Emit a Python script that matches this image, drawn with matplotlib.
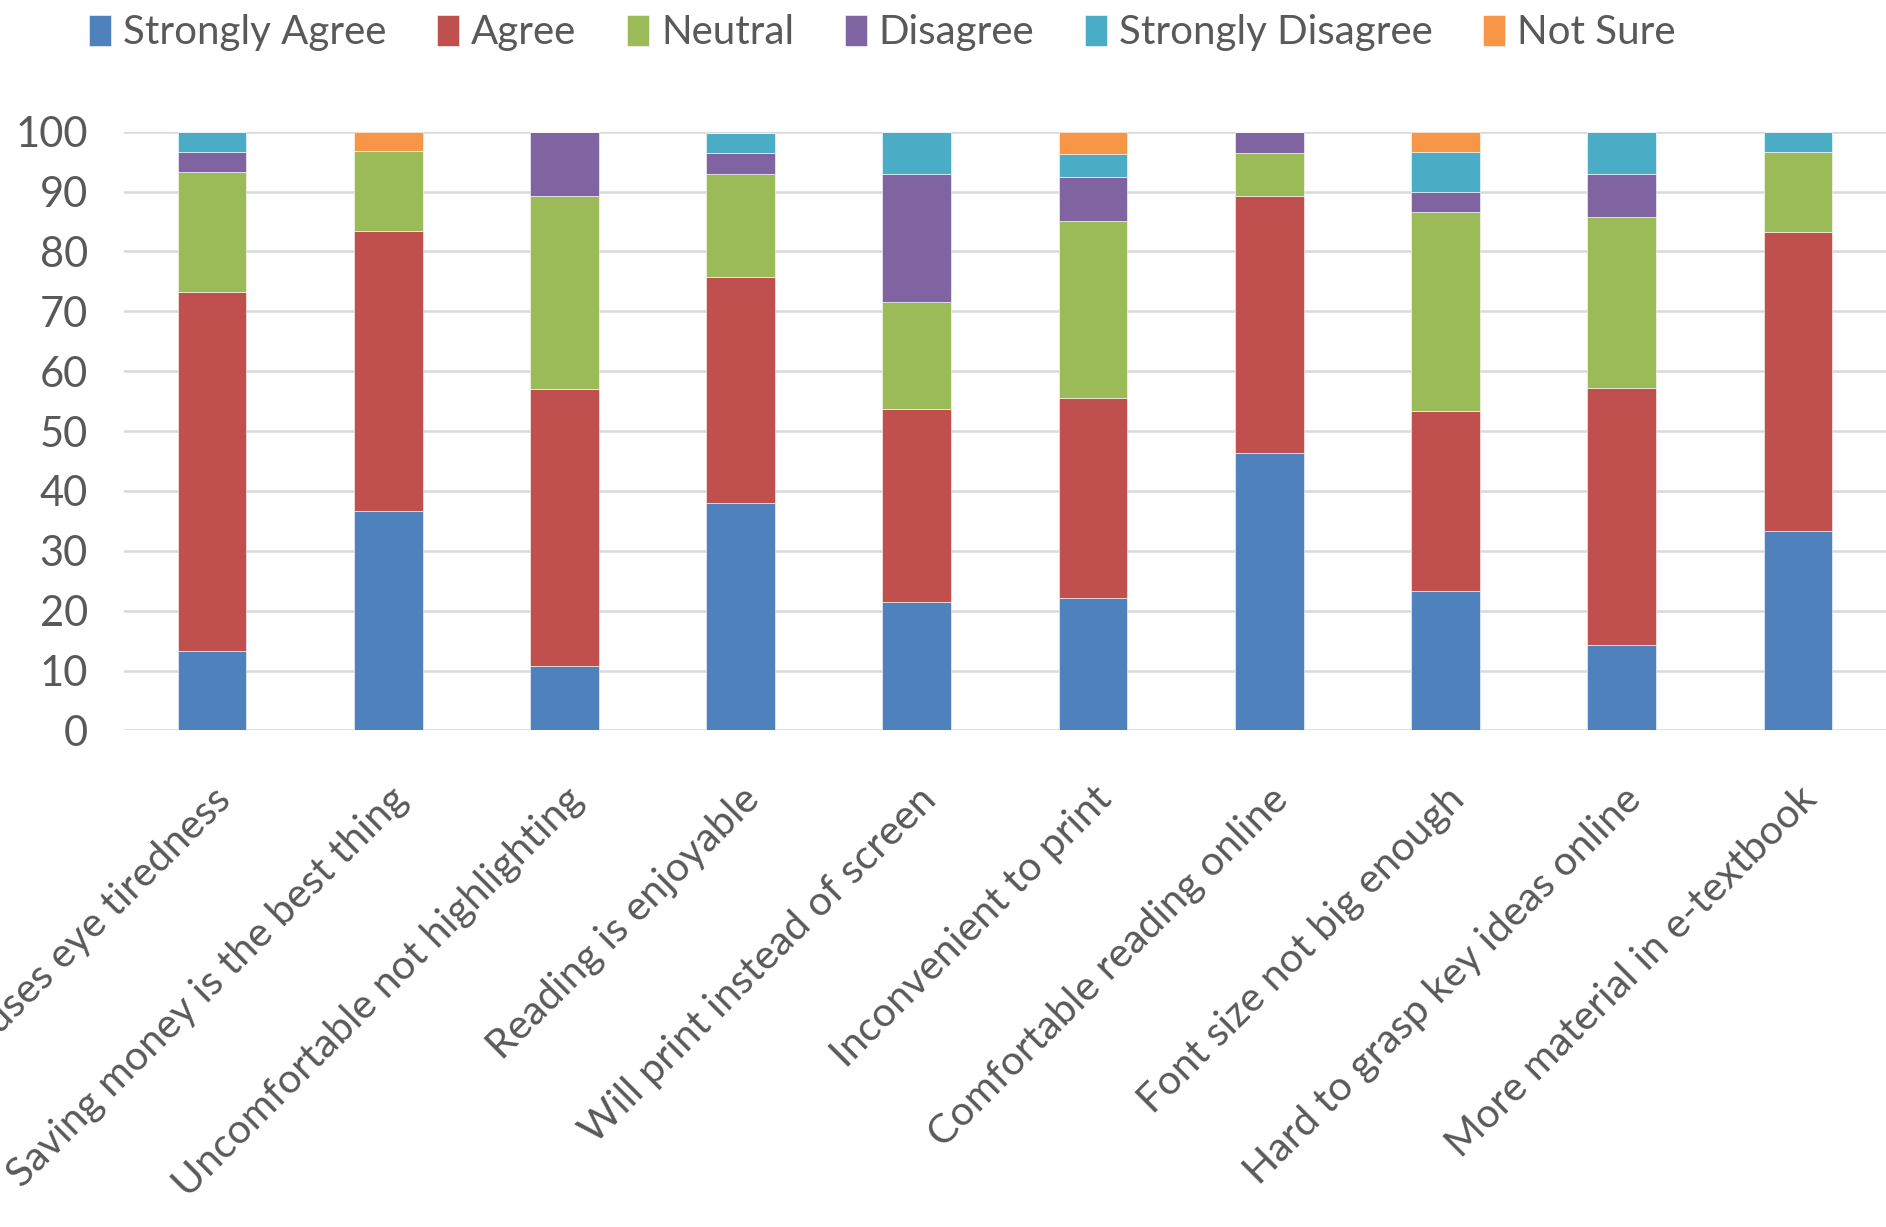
import numpy as np
import matplotlib
matplotlib.use("Agg")
import matplotlib.pyplot as plt

plt.rcParams['font.family'] = ['Lato', 'DejaVu Sans']

statements = ["Causes eye tiredness", "Saving money is the best thing",
              "Uncomfortable not highlighting", "Reading is enjoyable",
              "Will print instead of screen", "Inconvenient to print",
              "Comfortable reading online", "Font size not big enough",
              "Hard to grasp key ideas online", "More material in e-textbook"]

strongly_agree    = [13.3, 36.7, 10.7, 38.0, 21.4, 22.2, 46.4, 23.3, 14.3, 33.3]
agree             = [60.0, 46.7, 46.4, 37.7, 32.2, 33.3, 42.9, 30.0, 42.9, 50.0]
neutral           = [20.0, 13.3, 32.1, 17.3, 17.9, 29.6, 7.1, 33.3, 28.6, 13.3]
disagree          = [3.3, 0.0, 10.7, 3.4, 21.4, 7.4, 3.6, 3.3, 7.1, 0.0]
strongly_disagree = [3.3, 0.0, 0.0, 3.3, 7.1, 3.7, 0.0, 6.7, 7.1, 3.3]
not_sure          = [0.0, 3.3, 0.0, 0.0, 0.0, 3.7, 0.0, 3.3, 0.0, 0.0]

series = [("Strongly Agree", strongly_agree, "#4F81BD"),
          ("Agree", agree, "#C0504D"),
          ("Neutral", neutral, "#9BBB59"),
          ("Disagree", disagree, "#8064A2"),
          ("Strongly Disagree", strongly_disagree, "#4BACC6"),
          ("Not Sure", not_sure, "#F79646")]

txt = "#595959"
fig = plt.figure(figsize=(18.86, 12.27), dpi=100)
ax = fig.add_axes([0.0657, 0.4047, 0.9343, 0.488])

x = np.arange(len(statements))
bottom = np.zeros(len(statements))
for name, vals, col in series:
    vals = np.array(vals)
    ax.bar(x, vals, width=0.39, bottom=bottom, color=col, label=name,
           edgecolor="white", linewidth=0.4, zorder=3)
    bottom += vals

ax.set_xlim(-0.5, 9.5)
ax.set_ylim(0, 100)
ax.set_yticks(range(0, 101, 10))
ax.grid(axis="y", color="#D9D9D9", linewidth=1.8, zorder=0)
ax.set_axisbelow(True)
for s in ax.spines.values():
    s.set_visible(False)
ax.tick_params(length=0, colors=txt)
ax.tick_params(axis="y", labelsize=30, pad=26)
ax.set_xticks(x)
ax.set_xticklabels(statements, rotation=45, ha="right", rotation_mode="anchor",
                   fontsize=29.5, color=txt)
ax.tick_params(axis="x", pad=36)

fig.legend(loc="upper left", bbox_to_anchor=(0.028, 1.018), ncol=6, frameon=False,
           fontsize=29, labelcolor=txt, handlelength=0.55, handleheight=0.8,
           handletextpad=0.3, columnspacing=1.25)

fig.savefig("out.png", dpi=100)
